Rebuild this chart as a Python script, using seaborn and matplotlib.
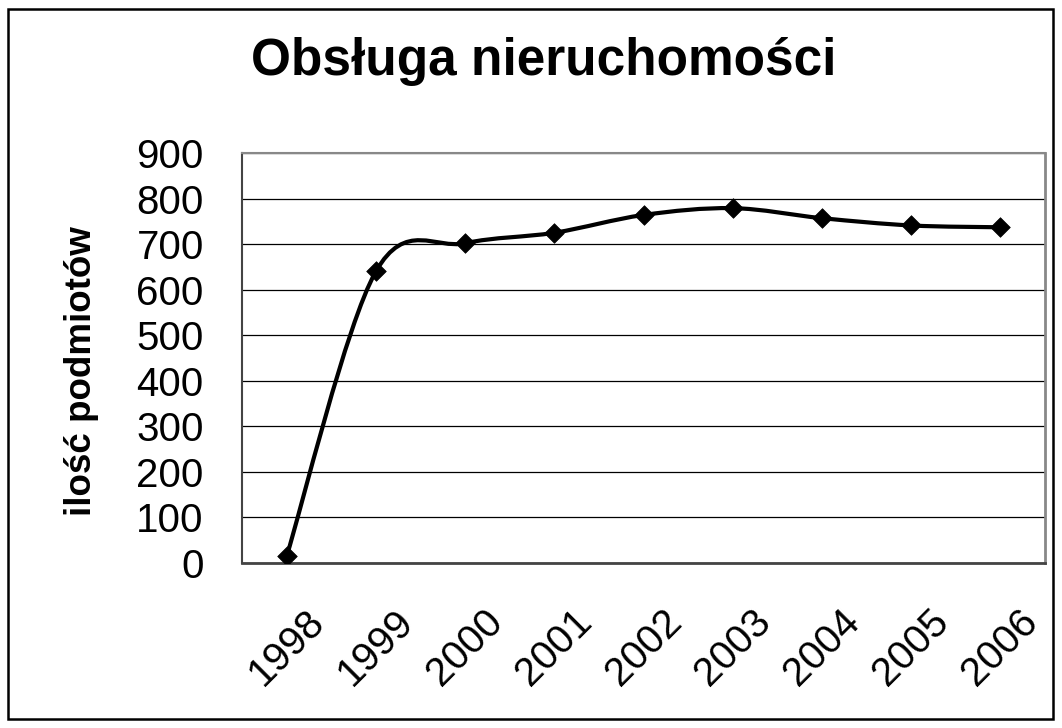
import matplotlib
matplotlib.use("Agg")
import matplotlib.pyplot as plt
import seaborn as sns
import numpy as np
from matplotlib.path import Path
from matplotlib.patches import PathPatch, Rectangle

# data
years = ["1998", "1999", "2000", "2001", "2002", "2003", "2004", "2005", "2006"]
counts = [15, 640, 702, 725, 764, 779, 757, 741, 737]
y_ticks = [0, 100, 200, 300, 400, 500, 600, 700, 800, 900]

sns.set_style("white")
plt.rcParams['font.family'] = ['Liberation Sans', 'DejaVu Sans']
plt.rcParams['text.color'] = 'black'
plt.rcParams['xtick.color'] = 'black'
plt.rcParams['ytick.color'] = 'black'
plt.rcParams['axes.labelcolor'] = 'black'


def smooth_path(xs, ys):
    """Excel-like smoothed line: cubic Bezier segments with Catmull-Rom tangents."""
    pts = np.column_stack([xs, ys]).astype(float)
    verts = [pts[0]]
    codes = [Path.MOVETO]
    n = len(pts)
    for i in range(n - 1):
        p0 = pts[i - 1] if i > 0 else pts[i]
        p1 = pts[i]
        p2 = pts[i + 1]
        p3 = pts[i + 2] if i + 2 < n else pts[i + 1]
        c1 = p1 + (p2 - p0) / 6.0
        c2 = p2 - (p3 - p1) / 6.0
        verts += [c1, c2, p2]
        codes += [Path.CURVE4] * 3
    return Path(verts, codes)


fig = plt.figure(figsize=(10.62, 7.28), dpi=100)
ax = fig.add_axes([0.2279, 0.2266, 0.7561, 0.5632])

pos = np.arange(len(years))

# smoothed line
patch = PathPatch(smooth_path(pos, counts), facecolor='none', edgecolor='black',
                  lw=3.0, capstyle='round', joinstyle='round', zorder=3)
ax.add_patch(patch)

# diamond markers
sns.scatterplot(x=pos, y=counts, marker='D', s=100, color='black',
                edgecolor='black', linewidth=0.5, zorder=4, ax=ax)

ax.set_xlim(-0.5, len(years) - 0.5)
ax.set_ylim(0, 900)

# y axis
ax.set_yticks(y_ticks)
ax.set_yticklabels([str(v) for v in y_ticks], fontsize=29)
ax.tick_params(axis='y', direction='out', length=9.5, width=1, color='#333333', pad=18)
ax.yaxis.grid(True, color='black', lw=0.9)
ax.set_axisbelow(True)

# x axis: labels at category centres, tick marks between categories
ax.set_xticks(pos)
ax.set_xticklabels(years, fontsize=29, rotation=45, ha='center', va='top')
ax.set_xticks(np.arange(-0.5, len(years)), minor=True)
ax.tick_params(axis='x', which='major', length=0, pad=28)
ax.tick_params(axis='x', which='minor', direction='out', length=8.6, width=1, color='#333333')

ax.set_ylabel("ilość podmiotów", fontsize=26.5, fontweight='bold')
ax.yaxis.set_label_coords(-0.178, 0.468)

for side, c, w in [('left', '#444444', 1.5), ('bottom', '#444444', 2.0),
                   ('right', '#888888', 2.0), ('top', '#888888', 1.5)]:
    ax.spines[side].set_visible(True)
    ax.spines[side].set_color(c)
    ax.spines[side].set_linewidth(w)

fig.text(0.5118, 0.916, "Obsługa nieruchomości", fontsize=37, fontweight='bold',
         ha='center', va='center')

# outer chart frame
fig.patches.append(Rectangle((8 / 1062, 9 / 728), 1045 / 1062, 710 / 728,
                             transform=fig.transFigure, fill=False,
                             edgecolor='black', lw=1.8, zorder=10))

plt.savefig("out.png", dpi=100)
